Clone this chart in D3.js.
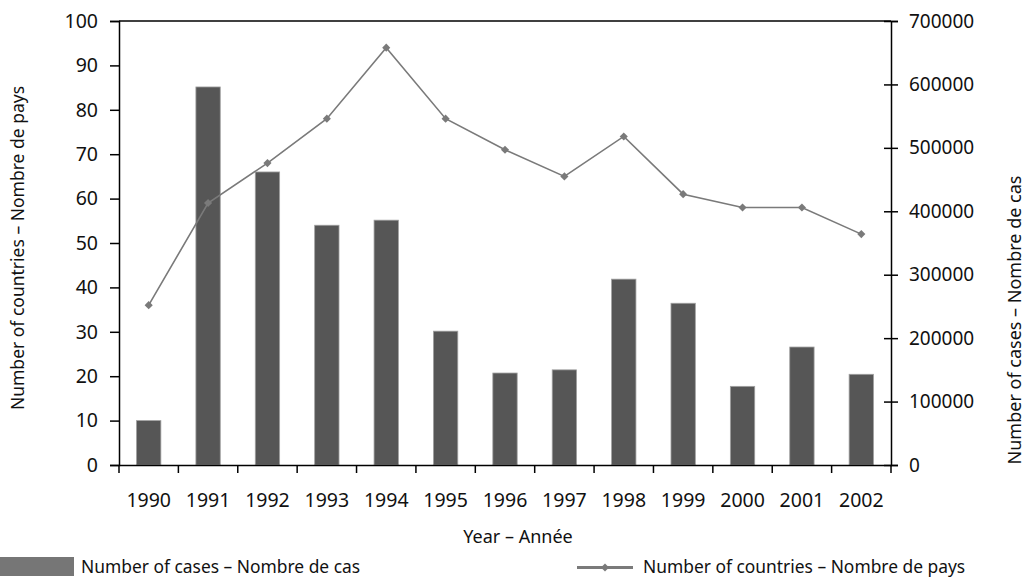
<!DOCTYPE html>
<html>
<head>
<meta charset="utf-8">
<script src="https://cdn.jsdelivr.net/npm/d3@7"></script>
<style>
  body { margin: 0; background: #fff; }
  text { font-family: "Noto Sans", sans-serif; fill: #111; }
</style>
</head>
<body>
<div id="chart"></div>
<script>
let width = 1027
let height = 578
let margin = { left: 119, right: 136, top: 21, bottom: 113 }

// data
let years = ["1990", "1991", "1992", "1993", "1994", "1995", "1996", "1997", "1998", "1999", "2000", "2001", "2002"]
let cases = [70000, 596000, 462000, 378000, 386000, 211000, 145000, 150000, 293000, 255000, 124000, 186000, 143000]
let countries = [36, 59, 68, 78, 94, 78, 71, 65, 74, 61, 58, 58, 52]
let leftTicks = [0, 10, 20, 30, 40, 50, 60, 70, 80, 90, 100]
let rightTicks = [0, 100000, 200000, 300000, 400000, 500000, 600000, 700000]

let svg = d3.select("#chart").append("svg")
  .attr("width", width)
  .attr("height", height)

let x0 = margin.left
let x1 = width - margin.right
let y0 = height - margin.bottom
let y1 = margin.top

let xScale = d3.scaleBand(years, [x0, x1]).paddingInner(0).paddingOuter(0)
let yLeft = d3.scaleLinear([0, 100], [y0, y1])
let yRight = d3.scaleLinear([0, 700000], [y0, y1])

let barW = xScale.bandwidth() * 0.41

// bars = number of cases (right axis)
svg.selectAll(".bar")
  .data(years)
  .enter()
  .append("rect")
  .attr("class", "bar")
  .attr("x", (d, i) => xScale(d) + xScale.bandwidth() / 2 - barW / 2)
  .attr("y", (d, i) => yRight(cases[i]))
  .attr("width", barW)
  .attr("height", (d, i) => y0 - yRight(cases[i]))
  .attr("fill", "#565656")
  .attr("stroke", "#a0a0a0")
  .attr("stroke-width", 0.8)

// line = number of countries (left axis)
let pts = years.map((d, i) => [xScale(d) + xScale.bandwidth() / 2, yLeft(countries[i])])

svg.append("path")
  .attr("d", d3.line()(pts))
  .attr("fill", "none")
  .attr("stroke", "#7a7a7a")
  .attr("stroke-width", 1.6)

let diamond = d3.symbol().type(d3.symbolDiamond2).size(42)
svg.selectAll(".mark")
  .data(pts)
  .enter()
  .append("path")
  .attr("class", "mark")
  .attr("transform", d => "translate(" + d[0] + "," + d[1] + ")")
  .attr("d", diamond)
  .attr("fill", "#7a7a7a")

// top frame line
svg.append("line")
  .attr("x1", x0).attr("x2", x1)
  .attr("y1", y1).attr("y2", y1)
  .attr("stroke", "#000").attr("stroke-width", 1.5)

// left axis
let leftAxis = svg.append("g")
  .attr("transform", "translate(" + x0 + ",0)")
  .call(d3.axisLeft(yLeft).tickValues(leftTicks).tickSizeOuter(0).tickSize(9).tickPadding(12))
leftAxis.selectAll("text").style("font-size", "19.5px")

// right axis, ticks cross the line
let rightAxis = svg.append("g")
  .attr("transform", "translate(" + x1 + ",0)")
  .call(d3.axisRight(yRight).tickValues(rightTicks).tickFormat(d3.format("d")).tickSizeOuter(0).tickSize(7).tickPadding(11))
rightAxis.selectAll(".tick line").attr("x1", -7)
rightAxis.selectAll("text").style("font-size", "19px")

// bottom axis
let bottomAxis = svg.append("g")
  .attr("transform", "translate(0," + y0 + ")")
  .call(d3.axisBottom(xScale).tickSize(0).tickPadding(28))
bottomAxis.selectAll("text").style("font-size", "19.5px")

// category boundary ticks
let bounds = years.map(d => xScale(d)).concat([x1])
bottomAxis.selectAll(".bound")
  .data(bounds)
  .enter()
  .append("line")
  .attr("class", "bound")
  .attr("x1", d => d).attr("x2", d => d)
  .attr("y1", 0).attr("y2", 8)
  .attr("stroke", "#000").attr("stroke-width", 1.5)

svg.selectAll(".domain").attr("stroke", "#000").attr("stroke-width", 1.5)
svg.selectAll(".tick line").attr("stroke", "#000").attr("stroke-width", 1.5)
svg.selectAll(".tick text").attr("fill", "#111")

// axis titles
svg.append("text")
  .attr("x", 518)
  .attr("y", 543)
  .attr("text-anchor", "middle")
  .style("font-size", "18px")
  .text("Year – Année")

svg.append("text")
  .attr("transform", "translate(24,248) rotate(-90)")
  .attr("text-anchor", "middle")
  .style("font-size", "17.5px")
  .text("Number of countries – Nombre de pays")

svg.append("text")
  .attr("transform", "translate(1021,320) rotate(-90)")
  .attr("text-anchor", "middle")
  .style("font-size", "18px")
  .text("Number of cases – Nombre de cas")

// legend
let legend = svg.append("g")

legend.append("rect")
  .attr("x", 0).attr("y", 557)
  .attr("width", 74).attr("height", 19)
  .attr("fill", "#767676")

legend.append("text")
  .attr("x", 81).attr("y", 573)
  .style("font-size", "17.4px")
  .text("Number of cases – Nombre de cas")

legend.append("line")
  .attr("x1", 577).attr("x2", 633)
  .attr("y1", 567.5).attr("y2", 567.5)
  .attr("stroke", "#7a7a7a").attr("stroke-width", 3)

legend.append("path")
  .attr("transform", "translate(605,567.5)")
  .attr("d", diamond)
  .attr("fill", "#7a7a7a")

legend.append("text")
  .attr("x", 643).attr("y", 573)
  .style("font-size", "17.4px")
  .text("Number of countries – Nombre de pays")
</script>
</body>
</html>
